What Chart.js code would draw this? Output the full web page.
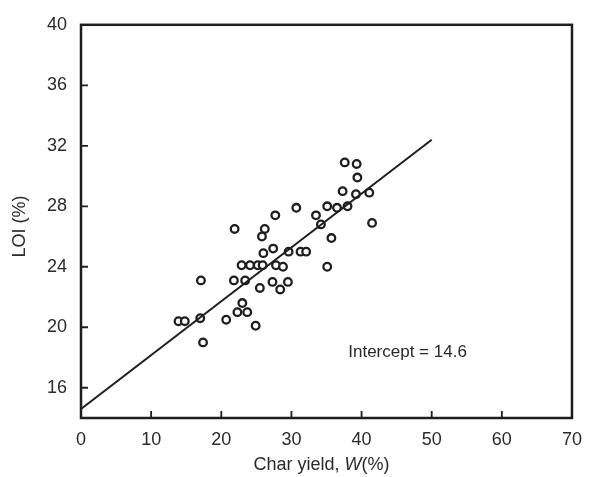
<!DOCTYPE html>
<html>
<head>
<meta charset="utf-8">
<script src="https://cdn.jsdelivr.net/npm/chart.js@4.4.1/dist/chart.umd.min.js"></script>
<style>
  html, body { margin: 0; padding: 0; background: #fff; }
  #wrap { width: 593px; height: 477px; }
</style>
</head>
<body>
<div id="wrap"><canvas id="loiChart" width="593" height="477"></canvas></div>
<script>
// char yield W(%) vs LOI(%)
const charYield = [37.6, 39.3, 39.4, 37.3, 39.2, 41.1, 38.0, 36.5, 35.1, 30.7,
                   27.7, 33.5, 34.2, 41.5, 21.9, 26.2, 25.8, 35.7, 27.4, 26.0,
                   29.6, 31.3, 32.1, 22.9, 24.1, 25.2, 25.9, 27.8, 28.8, 35.1,
                   17.1, 21.8, 23.4, 25.5, 27.3, 28.4, 29.5, 23.0, 22.3, 23.7,
                   13.9, 14.8, 17.0, 20.7, 24.9, 17.4];
const loi = [30.9, 30.8, 29.9, 29.0, 28.8, 28.9, 28.0, 27.9, 28.0, 27.9,
             27.4, 27.4, 26.8, 26.9, 26.5, 26.5, 26.0, 25.9, 25.2, 24.9,
             25.0, 25.0, 25.0, 24.1, 24.1, 24.1, 24.1, 24.1, 24.0, 24.0,
             23.1, 23.1, 23.1, 22.6, 23.0, 22.5, 23.0, 21.6, 21.0, 21.0,
             20.4, 20.4, 20.6, 20.5, 20.1, 19.0];
// fitted line
const fitX = [0, 50];
const fitY = [14.6, 32.4];
const xTicks = [0, 10, 20, 30, 40, 50, 60, 70];
const yTicks = [16, 20, 24, 28, 32, 36, 40];
const noteText = 'Intercept = 14.6';
const notePos = [38.1, 18.35];

const ink = '#1e1e1e';
const fontFamily = '"Liberation Sans", Arial, Helvetica, sans-serif';

const scatterPts = charYield.map((x, i) => ({ x: x, y: loi[i] }));
const linePts = fitX.map((x, i) => ({ x: x, y: fitY[i] }));

// frame, inward ticks, titles and the note
const decorPlugin = {
    id: 'decor',
    afterDraw(chart) {
        const ctx = chart.ctx;
        const a = chart.chartArea;
        const xs = chart.scales.x, ys = chart.scales.y;
        ctx.save();
        ctx.strokeStyle = ink;
        ctx.lineWidth = 2.5;
        ctx.strokeRect(a.left, a.top, a.right - a.left, a.bottom - a.top);

        ctx.lineWidth = 1.8;
        ctx.beginPath();
        xTicks.forEach(v => {
            const px = xs.getPixelForValue(v);
            ctx.moveTo(px, a.bottom);
            ctx.lineTo(px, a.bottom - 7);
        });
        yTicks.forEach(v => {
            const py = ys.getPixelForValue(v);
            ctx.moveTo(a.left, py);
            ctx.lineTo(a.left + 7, py);
        });
        ctx.stroke();

        ctx.fillStyle = '#2a2a2a';
        ctx.font = '17px ' + fontFamily;
        ctx.textBaseline = 'middle';
        ctx.textAlign = 'left';
        ctx.fillText(noteText, xs.getPixelForValue(notePos[0]), ys.getPixelForValue(notePos[1]));

        // x title with italic W
        const p1 = 'Char yield, ', p2 = 'W', p3 = '(%)';
        const normal = '18px ' + fontFamily, ital = 'italic 18px ' + fontFamily;
        ctx.font = normal; const w1 = ctx.measureText(p1).width, w3 = ctx.measureText(p3).width;
        ctx.font = ital; const w2 = ctx.measureText(p2).width;
        let tx = (a.left + a.right) / 2 - (w1 + w2 + w3) / 2 - 5;
        const ty = 465;
        ctx.font = normal; ctx.fillText(p1, tx, ty); tx += w1;
        ctx.font = ital; ctx.fillText(p2, tx, ty); tx += w2;
        ctx.font = normal; ctx.fillText(p3, tx, ty);

        // y title
        ctx.translate(20, (a.top + a.bottom) / 2 + 5);
        ctx.rotate(-Math.PI / 2);
        ctx.textAlign = 'center';
        ctx.font = normal;
        ctx.fillText('LOI (%)', 0, 0);
        ctx.restore();
    }
};

const ctx = document.getElementById('loiChart').getContext('2d');
const loiChart = new Chart(ctx, {
    type: 'scatter',
    data: {
        datasets: [
            {
                label: 'fit',
                type: 'line',
                data: linePts,
                borderColor: ink,
                borderWidth: 2,
                pointRadius: 0,
                fill: false
            },
            {
                label: 'data',
                data: scatterPts,
                backgroundColor: '#fff',
                borderColor: ink,
                borderWidth: 2.3,
                pointRadius: 3.8
            }
        ]
    },
    options: {
        responsive: false,
        animation: false,
        layout: { padding: { top: 22, right: 12, left: 0, bottom: 0 } },
        plugins: {
            legend: { display: false },
            tooltip: { enabled: false }
        },
        scales: {
            x: {
                type: 'linear',
                min: 0,
                max: 70,
                afterBuildTicks: s => { s.ticks = xTicks.map(v => ({ value: v })); },
                afterFit: s => { s.height = 59; },
                grid: { display: false, drawTicks: false },
                border: { display: false },
                ticks: { padding: 11, color: '#2a2a2a', font: { size: 18, family: fontFamily } }
            },
            y: {
                type: 'linear',
                min: 14,
                max: 40,
                afterBuildTicks: s => { s.ticks = yTicks.map(v => ({ value: v })); },
                afterFit: s => { s.width = 81; },
                grid: { display: false, drawTicks: false },
                border: { display: false },
                ticks: { padding: 14, color: '#2a2a2a', font: { size: 18, family: fontFamily } }
            }
        }
    },
    plugins: [decorPlugin]
});
</script>
</body>
</html>
